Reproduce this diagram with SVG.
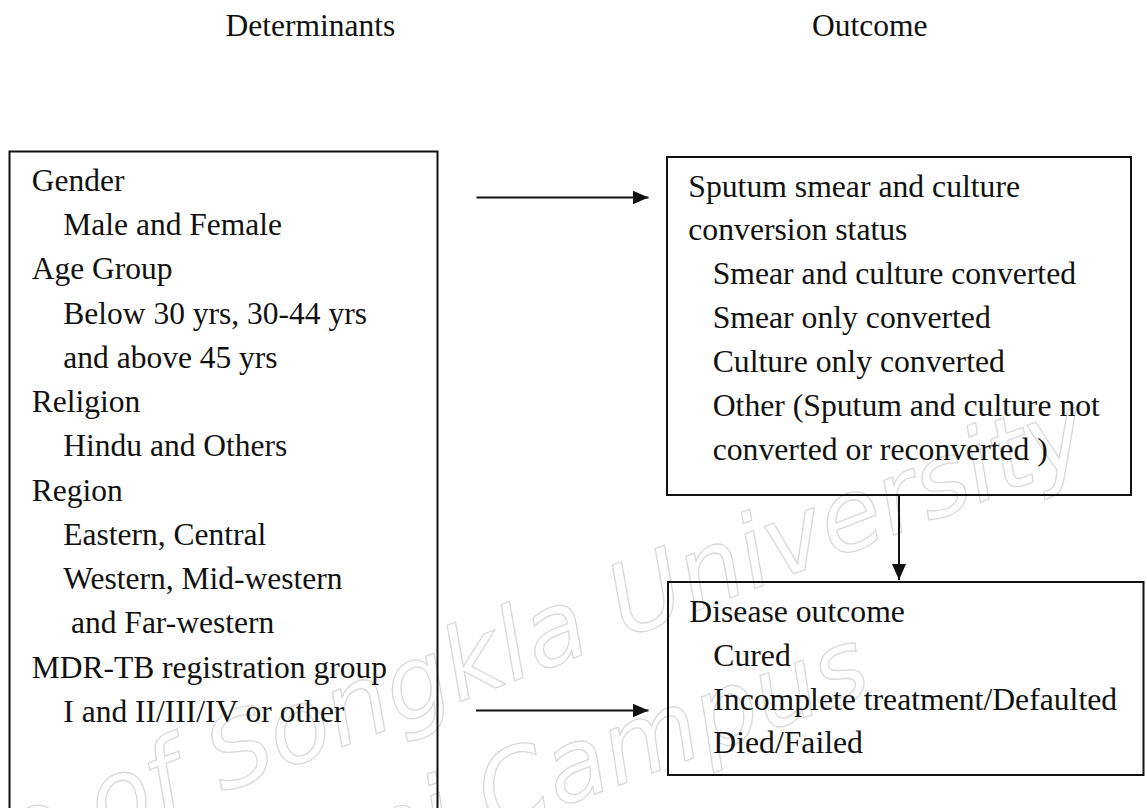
<svg xmlns="http://www.w3.org/2000/svg" width="1147" height="808" viewBox="0 0 1147 808">
<style>
.t{font-family:"Liberation Serif","Times New Roman",serif;font-size:31.5px;fill:#111}
.r{font-size:31.7px}
.box{fill:none;stroke:#111;stroke-width:2}
.con{stroke:#111;stroke-width:2;fill:none}
.wm{font-family:"DejaVu Sans",sans-serif;font-style:italic;font-size:100px;fill:none;stroke:#d9d9d9;stroke-width:1.3}
</style>
<defs>
<marker id="ah" markerUnits="userSpaceOnUse" markerWidth="16" markerHeight="14" refX="16" refY="7" orient="auto">
<path d="M0,0 L16,7 L0,14 Z" fill="#111"/>
</marker>
</defs>
<rect width="1147" height="808" fill="#fff"/>
<g id="watermark">
<text class="wm" transform="translate(1095,458) rotate(-21)" text-anchor="end" x="0" y="0">Prince of Songkla University</text>
<text class="wm" transform="translate(875,692) rotate(-20)" text-anchor="end" x="0" y="0">Pattani Campus</text>
</g>
<g id="headers">
<text class="t" x="225.5" y="36">Determinants</text>
<text class="t" x="812" y="36">Outcome</text>
</g>
<g id="determinants">
<rect class="box" x="9.5" y="151.5" width="428" height="680"/>
<text class="t" x="31.7" y="190.7">Gender</text>
<text class="t" x="63.3" y="234.9">Male and Female</text>
<text class="t" x="31.7" y="279.2">Age Group</text>
<text class="t" x="63.3" y="323.5">Below 30 yrs, 30-44 yrs</text>
<text class="t" x="63.3" y="367.7">and above 45 yrs</text>
<text class="t" x="31.7" y="412">Religion</text>
<text class="t" x="63.3" y="456.2">Hindu and Others</text>
<text class="t" x="31.7" y="500.5">Region</text>
<text class="t" x="63.3" y="544.7">Eastern, Central</text>
<text class="t" x="63.3" y="589">Western, Mid-western</text>
<text class="t" x="71" y="633.2">and Far-western</text>
<text class="t" x="31.7" y="677.5">MDR-TB registration group</text>
<text class="t" x="63.3" y="721.7">I and II/III/IV or other</text>
</g>
<g id="conversion">
<rect class="box" x="667" y="157" width="464" height="338"/>
<text class="t r" x="688.3" y="196.5">Sputum smear and culture</text>
<text class="t r" x="688.3" y="240.4">conversion status</text>
<text class="t r" x="712.7" y="284.3">Smear and culture converted</text>
<text class="t r" x="712.7" y="328.2">Smear only converted</text>
<text class="t r" x="712.7" y="372.1">Culture only converted</text>
<text class="t r" x="712.7" y="416">Other (Sputum and culture not</text>
<text class="t r" x="712.7" y="459.9">converted or reconverted )</text>
</g>
<g id="disease-outcome">
<rect class="box" x="668" y="582" width="475.5" height="193"/>
<text class="t r" x="689.3" y="622">Disease outcome</text>
<text class="t r" x="713.3" y="666">Cured</text>
<text class="t r" x="713.3" y="710">Incomplete treatment/Defaulted</text>
<text class="t r" x="713.3" y="753">Died/Failed</text>
</g>
<g id="connectors">
<line class="con" x1="476.5" y1="197.5" x2="648.5" y2="197.5" marker-end="url(#ah)"/>
<line class="con" x1="476" y1="710.5" x2="648.5" y2="710.5" marker-end="url(#ah)"/>
<line class="con" x1="899" y1="496" x2="899" y2="580" marker-end="url(#ah)"/>
</g>
</svg>
